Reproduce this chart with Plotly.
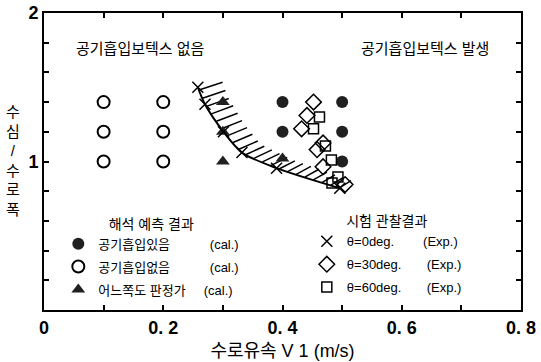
import numpy as np
import plotly.graph_objects as go

# ---------------- data ----------------
open_x = [0.1, 0.1, 0.1, 0.2, 0.2, 0.2]
open_y = [1.0, 1.2, 1.4, 1.0, 1.2, 1.4]
filled_x = [0.4, 0.4, 0.5, 0.5, 0.5]
filled_y = [1.4, 1.2, 1.4, 1.2, 1.0]
tri_x = [0.3, 0.3, 0.3, 0.4]
tri_y = [1.4, 1.2, 1.0, 1.02]
exp0_x = [0.258, 0.270, 0.301, 0.332, 0.390, 0.496]
exp0_y = [1.50, 1.385, 1.20, 1.06, 0.955, 0.82]
exp30_x = [0.452, 0.441, 0.432, 0.468, 0.458, 0.468, 0.505]
exp30_y = [1.40, 1.31, 1.22, 1.125, 1.08, 0.965, 0.845]
exp60_x = [0.462, 0.452, 0.472, 0.482, 0.493, 0.483]
exp60_y = [1.30, 1.22, 1.105, 1.01, 0.895, 0.855]

x_tick_vals = [0, 0.1, 0.2, 0.3, 0.4, 0.5, 0.6, 0.7, 0.8]
x_tick_text = ["0", "", "0. 2", "", "0. 4", "", "0. 6", "", "0. 8"]
y_tick_vals = [0, 0.2, 0.4, 0.6, 0.8, 1.0, 1.2, 1.4, 1.6, 1.8, 2.0]
y_tick_text = ["", "", "", "", "", "1", "", "", "", "", "2"]

NB = "\u00a0"
KFONT = "Liberation Sans, Noto Sans CJK KR, sans-serif"

W, H = 541, 362
ML, MR, MT, MB = 44, 20, 13, 52
XR = (0, 0.8)
YR = (0, 2)
xpx = (W - ML - MR) / (XR[1] - XR[0])
ypx = (H - MT - MB) / (YR[1] - YR[0])

# hatch segments derived from the boundary curve
bx = np.array(exp0_x) * xpx
by = np.array(exp0_y) * ypx
s = np.concatenate([[0], np.cumsum(np.hypot(np.diff(bx), np.diff(by)))])
ss = np.arange(3, s[-1], 9.0)
hx = np.interp(ss, s, bx)
hy = np.interp(ss, s, by)
frac = ss / s[-1]
L = 25 - 11 * frac
ang = np.radians(18 + 14 * frac)
hx2 = hx + L * np.cos(ang)
hy2 = hy + L * np.sin(ang)
hatch_x, hatch_y = [], []
for a, b, c, d in zip(hx, hy, hx2, hy2):
    hatch_x += [a / xpx, c / xpx, None]
    hatch_y += [b / ypx, d / ypx, None]

fig = go.Figure()

fig.add_trace(go.Scatter(x=hatch_x, y=hatch_y, mode="lines",
                         line=dict(color="black", width=1.5),
                         showlegend=False, hoverinfo="skip"))
fig.add_trace(go.Scatter(x=exp0_x, y=exp0_y, mode="lines",
                         line=dict(color="black", width=2, shape="spline", smoothing=0.8),
                         showlegend=False, hoverinfo="skip"))

# calculated results (left legend)
fig.add_trace(go.Scatter(x=filled_x, y=filled_y, mode="markers",
                         name="공기흡입있음" + NB * 11 + "(cal.)", legend="legend", legendgroup="a",
                         marker=dict(symbol="circle", size=12, color="#202020")))
fig.add_trace(go.Scatter(x=open_x, y=open_y, mode="markers",
                         name="공기흡입없음" + NB * 11 + "(cal.)", legend="legend", legendgroup="b",
                         marker=dict(symbol="circle-open", size=12, color="black", line=dict(width=2))))
fig.add_trace(go.Scatter(x=tri_x, y=tri_y, mode="markers",
                         name="어느쪽도 판정가" + NB * 5 + "(cal.)", legend="legend", legendgroup="c",
                         marker=dict(symbol="triangle-up", size=12, color="#202020")))

# experimental results (right legend)
fig.add_trace(go.Scatter(x=exp0_x, y=exp0_y, mode="markers",
                         name="θ=0deg." + NB * 8 + "(Exp.)", legend="legend2", legendgroup="d",
                         marker=dict(symbol="x-thin-open", size=11, color="black", line=dict(width=1.5))))
fig.add_trace(go.Scatter(x=exp30_x, y=exp30_y, mode="markers",
                         name="θ=30deg." + NB * 7 + "(Exp.)", legend="legend2", legendgroup="e",
                         marker=dict(symbol="diamond-open", size=12, color="black", line=dict(width=1.5))))
fig.add_trace(go.Scatter(x=exp60_x, y=exp60_y, mode="markers",
                         name="θ=60deg." + NB * 7 + "(Exp.)", legend="legend2", legendgroup="f",
                         marker=dict(symbol="square-open", size=10, color="black", line=dict(width=1.5))))

axis_common = dict(showgrid=False, zeroline=False, showline=True, linecolor="black",
                   linewidth=2, mirror="ticks", ticks="inside", ticklen=5, tickwidth=1.5,
                   tickcolor="black", automargin=False,
                   tickfont=dict(family="Liberation Sans, sans-serif", size=18, color="black", weight="bold"))

fig.update_layout(
    template="none",
    font=dict(family=KFONT, color="black"),
    width=W, height=H,
    margin=dict(l=ML, r=MR, t=MT, b=MB, autoexpand=False),
    paper_bgcolor="white", plot_bgcolor="white",
    xaxis=dict(range=list(XR), tickmode="array", tickvals=x_tick_vals, ticktext=x_tick_text,
               title=dict(text="수로유속 V 1 (m/s)", standoff=8,
                          font=dict(family=KFONT, size=18, color="black")),
               **axis_common),
    yaxis=dict(range=list(YR), tickmode="array", tickvals=y_tick_vals, ticktext=y_tick_text,
               **axis_common),
    legend=dict(x=0.030, y=0.335, xanchor="left", yanchor="top", bgcolor="rgba(0,0,0,0)",
                font=dict(family=KFONT, size=13, color="black"), tracegroupgap=3,
                traceorder="grouped",
                title=dict(text="해석 예측 결과", side="top center",
                           font=dict(family=KFONT, size=14, color="black"))),
    legend2=dict(x=0.551, y=0.343, xanchor="left", yanchor="top", bgcolor="rgba(0,0,0,0)",
                 font=dict(family=KFONT, size=13, color="black"), tracegroupgap=3,
                 traceorder="grouped",
                 title=dict(text="시험 관찰결과", side="top center",
                            font=dict(family=KFONT, size=14, color="black"))),
    annotations=[
        dict(text="공기흡입보텍스 없음", xref="paper", yref="paper", x=0.201, y=0.882,
             xanchor="center", yanchor="middle",
             showarrow=False, font=dict(family=KFONT, size=15, color="black")),
        dict(text="공기흡입보텍스 발생", xref="paper", yref="paper", x=0.799, y=0.882,
             xanchor="center", yanchor="middle",
             showarrow=False, font=dict(family=KFONT, size=15, color="black")),
        dict(text="<br>".join(list("수심/수로폭")), xref="paper", yref="paper",
             x=-0.065, y=0.505, xanchor="center", yanchor="middle", showarrow=False,
             font=dict(family=KFONT, size=15, color="black")),
    ],
)

fig.write_html("out.html", config={"displayModeBar": False},
               post_script="document.body.style.margin='0';")
